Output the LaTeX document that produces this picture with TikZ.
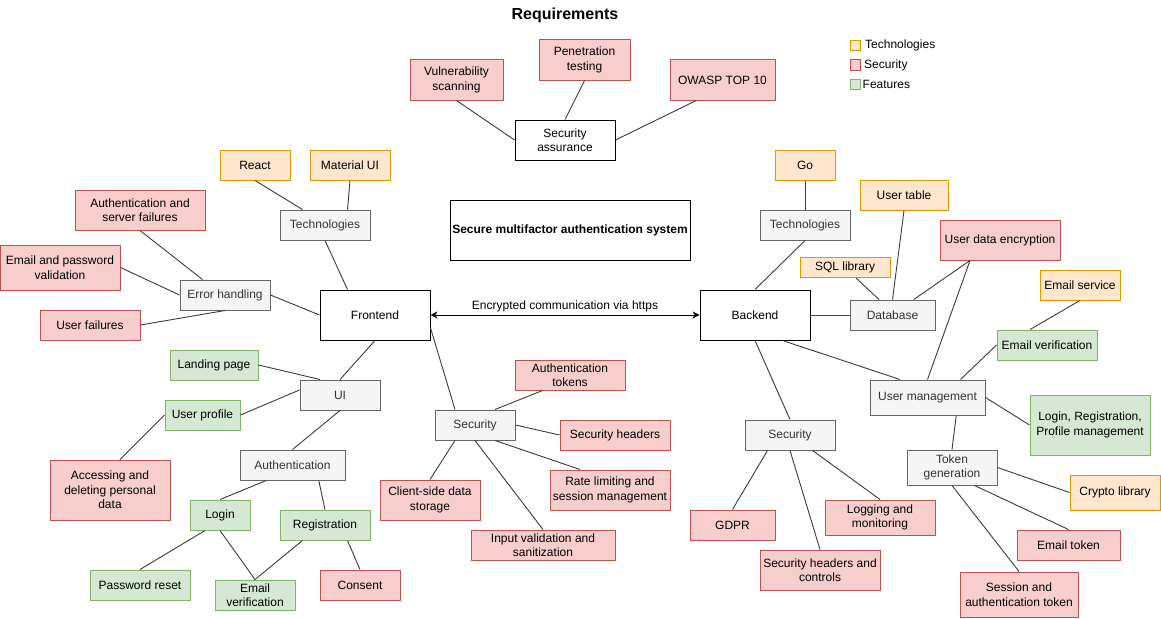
\documentclass[tikz,border=0pt]{standalone}
\usepackage{fontspec}
\setmainfont{Liberation Sans}
\usetikzlibrary{arrows.meta}

\definecolor{techfill}{HTML}{FFE6CC}
\definecolor{techline}{HTML}{D79B00}
\definecolor{secfill}{HTML}{F8CECC}
\definecolor{secline}{HTML}{B85450}
\definecolor{featfill}{HTML}{D5E8D4}
\definecolor{featline}{HTML}{82B366}
\definecolor{grpfill}{HTML}{F5F5F5}
\definecolor{grpline}{HTML}{666666}
\definecolor{grptext}{HTML}{333333}
\definecolor{linkcol}{HTML}{3A3A3A}

\tikzset{
  nbox/.style={draw, line width=1pt, align=center, inner sep=0pt, font=\fontsize{12}{14.5}\selectfont},
  techbox/.style={nbox, fill=techfill, draw=techline},
  secbox/.style={nbox, fill=secfill, draw=secline},
  featbox/.style={nbox, fill=featfill, draw=featline},
  grpbox/.style={nbox, fill=grpfill, draw=grpline, text=grptext},
  mainbox/.style={nbox, fill=white, draw=black},
  legtext/.style={anchor=west, inner sep=0pt, font=\fontsize{12}{14.5}\selectfont},
  link/.style={line width=0.9pt, draw=linkcol},
  tip/.tip={Stealth[length=7pt,width=7pt]}
}

\begin{document}
\begin{tikzpicture}[x=1pt,y=-1pt]
\useasboundingbox (0,0) rectangle (1161,618);

% Title
\node[font=\fontsize{16}{19}\selectfont\bfseries] (title) at (565,15) {Requirements};

% Legend
\node[techbox, minimum size=10] (lgtech) at (855.5,45.5) {};
\node[legtext] (lgtechtxt) at (865,45) {Technologies};
\node[secbox, minimum size=10] (lgsec) at (855.5,65) {};
\node[legtext] (lgsectxt) at (864,65) {Security};
\node[featbox, minimum size=10] (lgfeat) at (855.5,84.5) {};
\node[legtext] (lgfeattxt) at (862.5,84.5) {Features};

% Main title box
\node[mainbox, minimum width=240, minimum height=60, font=\fontsize{12}{14.5}\selectfont\bfseries] (smas) at (570,230) {Secure multifactor authentication system};

% Security assurance
\node[mainbox, minimum width=100, minimum height=40] (sa) at (565,140) {Security\\assurance};
\node[secbox, minimum width=93, minimum height=40] (va) at (456.5,80) {Vulnerability\\scanning};
\node[secbox, minimum width=91, minimum height=40] (pen) at (584.5,60) {Penetration\\testing};
\node[secbox, minimum width=105, minimum height=40] (owasp) at (722.5,80) {OWASP TOP 10};

% Frontend
\node[mainbox, minimum width=110, minimum height=50] (fe) at (375,315) {Frontend};
\node[grpbox, minimum width=90, minimum height=30] (techf) at (325,225) {Technologies};
\node[techbox, minimum width=70, minimum height=30] (react) at (255,165) {React};
\node[techbox, minimum width=80, minimum height=30] (matui) at (350,165) {Material UI};
\node[grpbox, minimum width=90, minimum height=30] (eh) at (225,295) {Error handling};
\node[secbox, minimum width=130, minimum height=40] (asf) at (140,210) {Authentication and\\server failures};
\node[secbox, minimum width=120, minimum height=45] (epv) at (60,267.5) {Email and password\\validation};
\node[secbox, minimum width=100, minimum height=30] (uf) at (90,325) {User failures};
\node[grpbox, minimum width=80, minimum height=30] (ui) at (340,395) {UI};
\node[featbox, minimum width=88, minimum height=30] (landing) at (214,365) {Landing page};
\node[featbox, minimum width=75, minimum height=30] (uprof) at (202.5,415) {User profile};
\node[secbox, minimum width=120, minimum height=60] (acc) at (110,490) {Accessing and\\deleting personal\\data};
\node[grpbox, minimum width=105, minimum height=30] (auth) at (292.5,465) {Authentication};
\node[featbox, minimum width=60, minimum height=30] (login) at (220,515) {Login};
\node[featbox, minimum width=90, minimum height=30] (reg) at (325,525) {Registration};
\node[featbox, minimum width=100, minimum height=30] (pwr) at (140,585) {Password reset};
\node[featbox, minimum width=80, minimum height=30] (evf) at (255,595) {Email\\verification};
\node[secbox, minimum width=80, minimum height=30] (consent) at (360,585) {Consent};
\node[grpbox, minimum width=80, minimum height=30] (secf) at (475,425) {Security};
\node[secbox, minimum width=110, minimum height=30] (atok) at (570,375) {Authentication\\tokens};
\node[secbox, minimum width=110, minimum height=30] (sech) at (615,435) {Security headers};
\node[secbox, minimum width=120, minimum height=40] (rate) at (610,490) {Rate limiting and\\session management};
\node[secbox, minimum width=100, minimum height=40] (csd) at (430,500) {Client-side data\\storage};
\node[secbox, minimum width=144, minimum height=30] (inv) at (543,545) {Input validation and\\sanitization};

% Backend
\node[mainbox, minimum width=110, minimum height=50] (be) at (755,315) {Backend};
\node[grpbox, minimum width=90, minimum height=30] (techb) at (805,225) {Technologies};
\node[techbox, minimum width=60, minimum height=30] (go) at (805,165) {Go};
\node[grpbox, minimum width=85, minimum height=30] (db) at (892.5,315) {Database};
\node[techbox, minimum width=88, minimum height=30] (utab) at (904,195) {User table};
\node[techbox, minimum width=90, minimum height=20] (sql) at (845,267.5) {SQL library};
\node[secbox, minimum width=120, minimum height=40] (ude) at (1000,240) {User data encryption};
\node[techbox, minimum width=80, minimum height=30] (esvc) at (1080,285) {Email service};
\node[featbox, minimum width=100, minimum height=30] (evb) at (1047,345) {Email verification};
\node[grpbox, minimum width=115, minimum height=35] (um) at (927.5,397.5) {User management};
\node[featbox, minimum width=120, minimum height=60] (lrp) at (1090,425) {Login, Registration,\\Profile management};
\node[grpbox, minimum width=90, minimum height=35] (tg) at (952,467.5) {Token\\generation};
\node[techbox, minimum width=90, minimum height=35] (cl) at (1115,492.5) {Crypto library};
\node[secbox, minimum width=103, minimum height=30] (etok) at (1068.5,545) {Email token};
\node[secbox, minimum width=118, minimum height=45] (sat) at (1019,594.5) {Session and\\authentication token};
\node[grpbox, minimum width=90, minimum height=30] (secb) at (790,435) {Security};
\node[secbox, minimum width=85, minimum height=30] (gdpr) at (732.5,525) {GDPR};
\node[secbox, minimum width=120, minimum height=40] (shc) at (820,570) {Security headers and\\controls};
\node[secbox, minimum width=110, minimum height=35] (logm) at (880,517.5) {Logging and\\monitoring};

% Connectors: security assurance
\draw[link] (va.south) -- (sa.west);
\draw[link] (pen.south) -- (sa.north);
\draw[link] ([xshift=-26.25]owasp.south) -- (sa.east);

% Connectors: frontend
\draw[link] (techf.south) -- ([xshift=-27.5]fe.north);
\draw[link] (react.south) -- ([xshift=-22.5]techf.north);
\draw[link] (matui.south) -- ([xshift=22.5]techf.north);
\draw[link] (asf.south) -- ([xshift=-22.5]eh.north);
\draw[link] (epv.east) -- (eh.west);
\draw[link] (uf.east) -- (eh.south);
\draw[link] (eh.east) -- (fe.west);
\draw[link] (fe.south) -- (ui.north);
\draw[link] (landing.east) -- ([xshift=-20]ui.north);
\draw[link] (uprof.east) -- ([yshift=5]ui.west);
\draw[link] (uprof.west) -- ([xshift=10]acc.north);
\draw[link] (ui.south) -- (auth.north);
\draw[link] ([xshift=-26.25]auth.south) -- (login.north);
\draw[link] ([xshift=26.25]auth.south) -- (reg.north);
\draw[link] ([xshift=-15]login.south) -- (pwr.north);
\draw[link] (login.south) -- (evf.north);
\draw[link] ([xshift=-22.5]reg.south) -- (evf.north);
\draw[link] ([xshift=22.5]reg.south) -- (consent.north);
\draw[link] ([yshift=-13]fe.east) -- ([xshift=-20]secf.north);
\draw[link] ([xshift=20]secf.north) -- ([xshift=-27.5]atok.south);
\draw[link] (secf.east) -- (sech.west);
\draw[link] ([xshift=20]secf.south) -- ([xshift=-30]rate.north);
\draw[link] ([xshift=-20]secf.south) -- (csd.north);
\draw[link] (secf.south) -- (inv.north);

% Frontend <-> backend
\draw[link, draw=black, tip-tip] (fe.east) -- node[midway, above, inner sep=3pt, font=\fontsize{12}{14.5}\selectfont] (lblhttps) {Encrypted communication via https} (be.west);

% Connectors: backend
\draw[link] (go.south) -- (techb.north);
\draw[link] (techb.south) -- (be.north);
\draw[link] (be.east) -- (db.west);
\draw[link] ([xshift=11]sql.south) -- ([xshift=-13.5]db.north);
\draw[link] (utab.south) -- (db.north);
\draw[link] ([xshift=-30]ude.south) -- ([xshift=21.25]db.north);
\draw[link] ([xshift=-30]ude.south) -- (um.north);
\draw[link] (esvc.south) -- ([xshift=-17]evb.north);
\draw[link] (evb.west) -- ([xshift=33]um.north);
\draw[link] ([xshift=27.5]be.south) -- ([xshift=-27.5]um.north);
\draw[link] (um.east) -- (lrp.west);
\draw[link] ([xshift=28.75]um.south) -- (tg.north);
\draw[link] (tg.east) -- (cl.west);
\draw[link] ([xshift=22.5]tg.south) -- (etok.north);
\draw[link] (tg.south) -- (sat.north);
\draw[link] (be.south) -- (secb.north);
\draw[link] ([xshift=-22.5]secb.south) -- (gdpr.north);
\draw[link] (secb.south) -- (shc.north);
\draw[link] ([xshift=22.5]secb.south) -- (logm.north);
\end{tikzpicture}
\end{document}
